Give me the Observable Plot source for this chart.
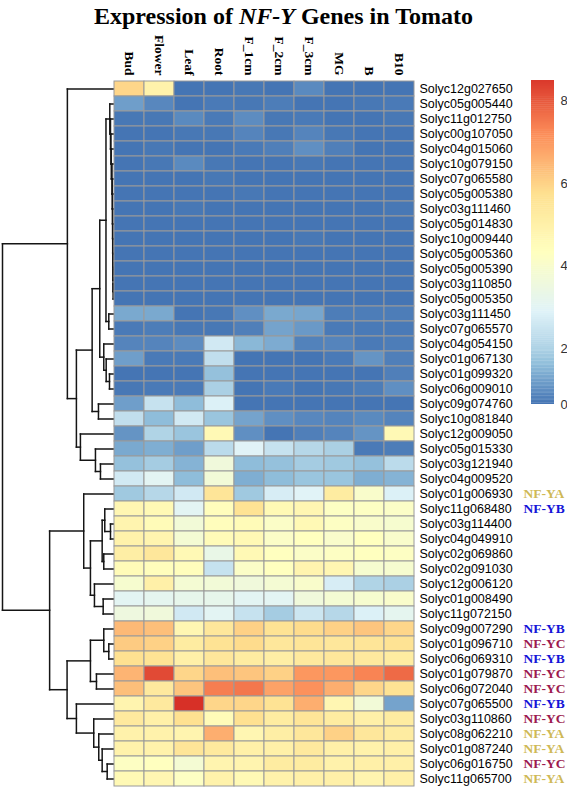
<!DOCTYPE html>
<html>
<head>
<meta charset="utf-8">
<script src="https://cdn.jsdelivr.net/npm/d3@7"></script>
<script src="https://cdn.jsdelivr.net/npm/@observablehq/plot@0.6"></script>
<style>
  html, body { margin: 0; padding: 0; background: #fff; }
  #wrap { position: relative; width: 567px; height: 789px; overflow: hidden; background: #fff; }
  #wrap > svg { position: absolute; left: 0; top: 0; }
  #title { position: absolute; left: 0; top: 4px; width: 567px; text-align: center;
    font-family: "Liberation Serif", "Times New Roman", serif; font-weight: bold; font-size: 24px; line-height: 24px; color: #000; }
</style>
</head>
<body>
<div id="wrap"><div id="title">Expression of <i>NF-Y</i> Genes in Tomato</div></div>
<script>
const samples = ["Bud","Flower","Leaf","Root","F_1cm","F_2cm","F_3cm","MG","B","B10"];

const genes = [
  "Solyc12g027650","Solyc05g005440","Solyc11g012750","Solyc00g107050","Solyc04g015060",
  "Solyc10g079150","Solyc07g065580","Solyc05g005380","Solyc03g111460","Solyc05g014830",
  "Solyc10g009440","Solyc05g005360","Solyc05g005390","Solyc03g110850","Solyc05g005350",
  "Solyc03g111450","Solyc07g065570","Solyc04g054150","Solyc01g067130","Solyc01g099320",
  "Solyc06g009010","Solyc09g074760","Solyc10g081840","Solyc12g009050","Solyc05g015330",
  "Solyc03g121940","Solyc04g009520","Solyc01g006930","Solyc11g068480","Solyc03g114400",
  "Solyc04g049910","Solyc02g069860","Solyc02g091030","Solyc12g006120","Solyc01g008490",
  "Solyc11g072150","Solyc09g007290","Solyc01g096710","Solyc06g069310","Solyc01g079870",
  "Solyc06g072040","Solyc07g065500","Solyc03g110860","Solyc08g062210","Solyc01g087240",
  "Solyc06g016750","Solyc11g065700"
];

// expression values (rows = genes, columns = samples)
const expr = [
  [5.9, 4.9, 0.0, 0.0, 0.05, 0.0, 0.4, 0.0, 0.0, 0.0],
  [0.8, 0.35, 0.0, 0.1, 0.05, 0.15, 0.0, 0.0, 0.05, 0.1],
  [0.05, 0.05, 0.4, 0.1, 0.45, 0.05, 0.1, 0.0, 0.0, 0.05],
  [0.0, 0.0, 0.05, 0.05, 0.3, 0.05, 0.3, 0.05, 0.0, 0.0],
  [0.0, 0.05, 0.0, 0.0, 0.1, 0.2, 0.5, 0.2, 0.0, 0.0],
  [0.0, 0.05, 0.4, 0.05, 0.0, 0.0, 0.05, 0.0, 0.0, 0.0],
  [0.0, 0.0, 0.0, 0.05, 0.0, 0.0, 0.0, 0.0, 0.0, 0.0],
  [0.0, 0.0, 0.0, 0.0, 0.05, 0.0, 0.0, 0.0, 0.0, 0.0],
  [0.0, 0.0, 0.05, 0.0, 0.0, 0.0, 0.0, 0.0, 0.0, 0.05],
  [0.0, 0.0, 0.0, 0.0, 0.0, 0.0, 0.0, 0.0, 0.0, 0.0],
  [0.0, 0.0, 0.0, 0.0, 0.0, 0.0, 0.05, 0.0, 0.0, 0.0],
  [0.0, 0.0, 0.0, 0.0, 0.0, 0.0, 0.0, 0.0, 0.0, 0.0],
  [0.0, 0.0, 0.0, 0.0, 0.0, 0.0, 0.0, 0.0, 0.0, 0.0],
  [0.0, 0.0, 0.0, 0.0, 0.0, 0.0, 0.0, 0.0, 0.0, 0.0],
  [0.0, 0.0, 0.0, 0.0, 0.0, 0.0, 0.0, 0.0, 0.0, 0.0],
  [1.0, 1.0, 0.0, 0.05, 0.5, 1.0, 0.95, 0.15, 0.15, 0.15],
  [0.1, 0.15, 0.05, 0.05, 0.2, 0.9, 0.7, 0.1, 0.1, 0.1],
  [0.3, 0.3, 0.45, 2.6, 1.3, 1.05, 0.25, 0.3, 0.1, 0.15],
  [0.8, 0.1, 0.1, 2.3, 0.0, 0.0, 0.0, 0.1, 0.6, 0.2],
  [0.0, 0.0, 0.0, 1.5, 0.0, 0.0, 0.0, 0.0, 0.0, 0.2],
  [0.05, 0.1, 0.1, 1.9, 0.0, 0.1, 0.0, 0.05, 0.15, 0.5],
  [0.8, 2.4, 1.4, 2.8, 0.0, 0.0, 0.0, 0.0, 0.0, 0.0],
  [2.3, 1.4, 2.6, 1.6, 0.9, 0.5, 0.35, 0.3, 0.4, 0.3],
  [0.6, 2.0, 1.6, 4.6, 0.5, 0.0, 0.2, 0.3, 0.6, 4.6],
  [1.0, 1.1, 0.8, 2.2, 2.9, 2.4, 2.1, 1.9, 0.1, 0.15],
  [1.5, 1.8, 1.2, 3.6, 1.4, 1.5, 1.8, 1.7, 1.5, 2.2],
  [2.6, 3.0, 1.4, 3.7, 1.1, 1.4, 1.6, 1.6, 1.1, 1.2],
  [1.7, 2.1, 2.6, 5.5, 1.7, 2.7, 2.9, 5.2, 4.0, 2.8],
  [4.7, 4.6, 3.0, 4.4, 5.6, 4.6, 4.7, 4.2, 4.2, 4.1],
  [4.8, 4.5, 3.7, 4.4, 4.5, 4.1, 4.6, 4.2, 4.0, 3.9],
  [4.9, 4.8, 3.8, 4.5, 4.6, 4.1, 4.3, 4.0, 4.3, 4.0],
  [5.1, 5.4, 4.6, 3.3, 4.6, 4.3, 4.1, 4.2, 4.3, 4.2],
  [4.5, 4.4, 4.4, 2.4, 4.1, 4.3, 4.8, 4.7, 3.9, 3.9],
  [3.9, 5.0, 3.8, 3.7, 3.6, 3.8, 4.0, 2.7, 2.0, 1.9],
  [3.0, 3.1, 3.2, 3.2, 3.0, 3.0, 3.6, 3.8, 3.9, 4.0],
  [3.5, 3.6, 2.6, 3.0, 2.4, 1.8, 2.5, 2.1, 2.8, 3.1],
  [6.4, 6.3, 4.7, 5.4, 6.0, 5.6, 5.8, 6.0, 6.2, 5.9],
  [6.1, 6.0, 5.2, 5.6, 5.8, 5.4, 5.5, 5.4, 5.5, 5.6],
  [5.7, 5.6, 5.0, 5.4, 5.2, 5.1, 5.3, 5.4, 5.3, 5.2],
  [6.5, 8.2, 5.9, 6.3, 6.2, 6.0, 7.0, 7.0, 7.3, 7.7],
  [6.3, 5.3, 6.2, 7.4, 7.5, 6.8, 7.1, 6.6, 5.9, 5.6],
  [4.8, 5.3, 8.6, 5.9, 5.9, 5.6, 6.6, 4.7, 3.7, 0.9],
  [5.3, 5.0, 5.7, 4.5, 5.7, 5.2, 5.5, 5.2, 5.0, 5.2],
  [4.9, 4.9, 4.8, 6.6, 4.7, 5.1, 5.4, 6.0, 5.4, 5.2],
  [4.9, 4.9, 5.5, 5.3, 5.0, 5.0, 5.3, 5.0, 4.9, 5.0],
  [4.2, 4.3, 3.8, 4.8, 4.8, 5.2, 5.2, 4.9, 5.0, 5.0],
  [4.6, 4.7, 4.2, 4.9, 4.6, 4.9, 5.0, 5.0, 4.8, 5.0]
];

// NF-Y subfamily annotations
const nfGenes = ["Solyc01g006930","Solyc11g068480","Solyc09g007290","Solyc01g096710","Solyc06g069310",
  "Solyc01g079870","Solyc06g072040","Solyc07g065500","Solyc03g110860","Solyc08g062210",
  "Solyc01g087240","Solyc06g016750","Solyc11g065700"];
const nfTypes = ["NF-YA","NF-YB","NF-YB","NF-YC","NF-YB","NF-YC","NF-YC","NF-YB","NF-YC","NF-YA","NF-YA","NF-YC","NF-YA"];
const nfColors = {"NF-YA": "#cfb955", "NF-YB": "#1515d8", "NF-YC": "#9c1a4f"};

// row dendrogram: [mergeHeight, left, right]; leaves are row indices
const tree =
[110.7,
  [46, 0,
    [37,
      [21.3,
        [13.7,
          [7.5,
            [3.7, 1, [3.0, 2, [2.6, 3, [2.2, 4, [1.5, 5, [1.2, 6, [1.0, 7, [0.9, 8, [0.8, 9, [0.7, 10, [0.6, 11, [0.5, 12, [0.4, 13, 14]]]]]]]]]]]]],
            [4.7, 15, 16]],
          [9.7, 17, [7.3, 18, [4.0, 19, 20]]]],
        [15, 21, 22]],
      [33, 23, [18, 24, [13, 25, 26]]]]],
  [63.7,
    [29.7, 27,
      [23,
        [11.3, [8.7, 28, [3.0, 29, 30]], [9.7, 31, 32]],
        [19, 33, [10.3, 34, 35]]]],
    [46.3,
      [23, [9.7, 36, [4.7, 37, 38]], [17, 39, 40]],
      [37, 41, [19.7, 42, [14.7, 43, [11.3, 44, [6.3, 45, 46]]]]]]]];

const legendTicks = [0, 2, 4, 6, 8];
const palette = ["#4575b4","#91bfdb","#e0f3f8","#ffffbf","#fee090","#fc8d59","#d73027"];
const vmin = 0, vmax = 8.6;

// ---- build tables ----
const cells = genes.flatMap((g, i) => samples.map((s, j) => ({gene: g, sample: s, value: expr[i][j]})));
const stops = palette.map((_, i) => vmin + i * (vmax - vmin) / (palette.length - 1));
const colorScale = {type: "linear", domain: stops, range: palette, interpolate: "rgb"};

const segs = [];
function lay(node) {
  if (typeof node === "number") return {y: node, h: 0};
  const [h, a, b] = node;
  const A = lay(a), B = lay(b);
  segs.push({x1: h, x2: h, y1: A.y, y2: B.y});
  segs.push({x1: h, x2: A.h, y1: A.y, y2: A.y});
  segs.push({x1: h, x2: B.h, y1: B.y, y2: B.y});
  return {y: (A.y + B.y) / 2, h};
}
lay(tree);

const W = 567, H = 789;
const common = {width: W, height: H, style: {background: "transparent", overflow: "visible", fontFamily: "Liberation Sans, Arial, sans-serif"}};

// heatmap
const heat = Plot.plot({
  ...common,
  marginTop: 81, marginBottom: 3, marginLeft: 114, marginRight: 153,
  x: {domain: samples, padding: 0, axis: null},
  y: {domain: genes, padding: 0, axis: null},
  color: colorScale,
  marks: [
    Plot.cell(cells, {x: "sample", y: "gene", fill: "value", stroke: "#9a9a9a", strokeWidth: 1, inset: 0}),
    Plot.axisX({anchor: "top", tickSize: 0, tickPadding: 6, tickRotate: 90, textAnchor: "end", label: null,
      fontSize: 13.5, fontWeight: "bold", fontFamily: "Liberation Serif, Times New Roman, serif", fill: "#000"}),
    Plot.axisY({anchor: "right", tickSize: 0, tickPadding: 5, label: null, fontSize: 12.5, fill: "#000"}),
    ...Object.keys(nfColors).map(t =>
      Plot.text(nfGenes.map((g, i) => ({gene: g, type: nfTypes[i]})).filter(d => d.type === t),
        {y: "gene", text: "type", frameAnchor: "right", dx: 109, textAnchor: "start",
         fill: nfColors[t], fontWeight: "bold", fontSize: 13.5, fontFamily: "Liberation Serif, Times New Roman, serif"}))
  ]
});

// dendrogram
const dendro = Plot.plot({
  ...common,
  marginTop: 81, marginBottom: 3, marginLeft: 2, marginRight: W - 113,
  x: {domain: [110.7, 0], axis: null},
  y: {domain: [genes.length - 0.5, -0.5], axis: null},
  marks: [
    Plot.link(segs, {x1: "x1", y1: "y1", x2: "x2", y2: "y2", stroke: "#151515", strokeWidth: 1.5, strokeLinecap: "square"})
  ]
});

// color legend (tick positions as printed in the original key)
const legendTop = 8.5;
const legendSteps = d3.range(vmin, legendTop, 0.05);
const legend = Plot.plot({
  ...common,
  marginTop: 80, marginBottom: H - 404, marginLeft: 531, marginRight: W - 554,
  x: {domain: [0, 1], axis: null},
  y: {type: "linear", domain: [0, 2, legendTop], range: [404, 348, 80]},
  color: colorScale,
  marks: [
    Plot.rect(legendSteps, {x1: 0, x2: 1, y1: d => d, y2: d => Math.min(legendTop, d + 0.06), fill: d => d}),
    Plot.axisY({anchor: "right", ticks: legendTicks, tickSize: 0, tickPadding: 6, label: null, fontSize: 13, fill: "#333"})
  ]
});

const wrap = document.getElementById("wrap");
wrap.appendChild(dendro);
wrap.appendChild(heat);
wrap.appendChild(legend);
</script>
</body>
</html>
